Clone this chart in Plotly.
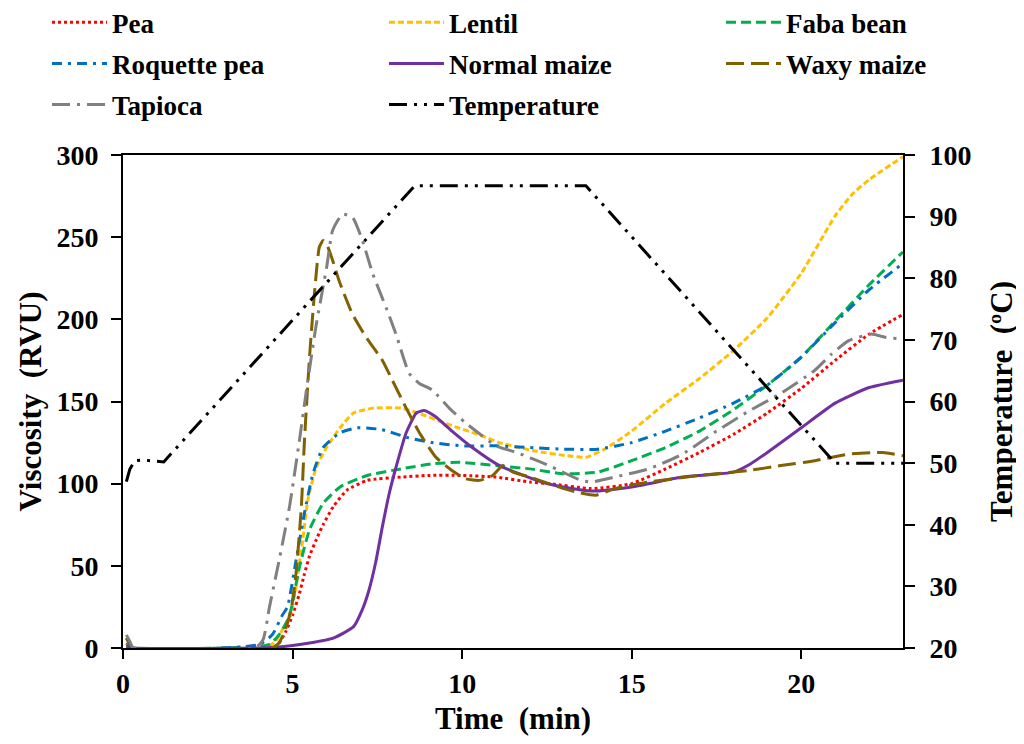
import plotly.graph_objects as go

# ---------------- data ----------------
pea_t = [0.1, 0.3, 4.4, 4.6, 4.8, 5.0, 5.2, 5.35, 5.5, 5.7, 5.9, 6.2, 6.6, 7.2, 8.2, 9.0, 10.0, 11.0, 12.0, 12.6, 13.8, 15.0, 16.0, 17.0, 18.0, 19.0, 20.0, 21.0, 22.0, 23.0]
pea_v = [3, 0, 0, 3, 10, 20, 33, 45, 56, 66, 75, 86, 96, 102, 104, 105, 105, 104, 101, 100, 97, 100, 109, 119, 130, 143, 158, 175, 191, 203]

lentil_t = [0.1, 0.3, 4.2, 4.5, 4.7, 4.9, 5.1, 5.3, 5.45, 5.7, 6.0, 6.4, 6.8, 7.4, 8.2, 8.7, 9.6, 10.6, 11.1, 12.1, 13.1, 13.65, 14.2, 15.0, 16.0, 17.0, 18.0, 19.0, 20.0, 21.0, 21.5, 22.0, 23.0]
lentil_v = [2, 0, 0, 4, 11, 17, 37, 66, 90, 110, 122, 134, 143, 146, 146, 143, 136, 129, 125, 120, 117, 116, 121, 132, 149, 164, 181, 201, 228, 263, 276, 285, 299]

faba_t = [0.1, 0.3, 4.3, 4.6, 4.9, 5.2, 5.5, 5.9, 6.4, 7.2, 8.2, 9.1, 9.9, 11.0, 12.0, 13.0, 14.0, 15.0, 16.0, 17.0, 18.0, 19.0, 20.0, 21.0, 22.0, 23.0]
faba_v = [2, 0, 2, 8, 19, 49, 72, 88, 98, 105, 109, 112, 113, 111, 109, 106, 107, 114, 122, 132, 145, 160, 177, 199, 221, 241]

roquette_t = [0.1, 0.3, 4.0, 4.4, 4.7, 4.85, 5.1, 5.35, 5.6, 5.9, 6.4, 6.9, 7.6, 8.4, 9.1, 10.0, 11.0, 12.0, 13.0, 14.0, 15.0, 16.0, 17.0, 18.0, 19.0, 20.0, 21.0, 22.0, 23.0]
roquette_v = [6, 0, 2, 8, 20, 25, 53, 82, 106, 122, 131, 134, 133, 128, 125, 123, 123, 122, 121, 121, 125, 132, 140, 149, 160, 177, 198, 218, 234]

maize_t = [0.1, 0.3, 4.0, 4.5, 5.0, 5.5, 6.2, 6.8, 7.05, 7.25, 7.45, 7.65, 7.85, 8.05, 8.35, 8.65, 8.88, 9.2, 9.7, 10.3, 11.1, 12.5, 13.8, 15.0, 16.5, 18.0, 18.5, 19.0, 20.0, 21.0, 22.0, 23.0]
maize_v = [1, 0, 0, 0.5, 1.5, 3, 6, 13, 23, 35, 52, 74, 94, 110, 131, 143, 144.5, 141, 132, 122, 111, 100, 95.5, 98, 104, 107, 112, 119, 134, 149, 158.5, 163]

waxy_t = [0.1, 0.2, 0.3, 4.4, 4.6, 4.8, 4.97, 5.1, 5.26, 5.35, 5.5, 5.65, 5.79, 5.9, 6.0, 6.18, 6.38, 6.77, 7.17, 7.65, 7.94, 8.35, 8.74, 9.23, 9.7, 10.1, 10.5, 10.9, 11.2, 11.5, 12.0, 12.56, 13.0, 13.35, 13.94, 14.5, 15.5, 17.0, 18.44, 19.4, 20.4, 21.4, 22.4, 23.0]
waxy_v = [6, 3, 0, 0, 3, 12, 25, 45, 86, 126, 177, 217, 244, 248, 246, 236, 223, 203, 189, 175, 163, 146, 131, 116, 108, 103, 102, 105, 111, 107, 104, 100, 97, 95, 93, 97, 101, 105, 108, 111, 114, 118, 119, 117]

tapioca_t = [0.1, 0.2, 0.3, 3.9, 4.13, 4.32, 4.62, 4.91, 5.2, 5.41, 5.7, 6.0, 6.18, 6.47, 6.77, 7.06, 7.36, 7.76, 8.05, 8.44, 8.74, 9.12, 9.62, 10.1, 10.6, 11.0, 11.6, 12.56, 13.5, 13.8, 14.5, 15.5, 16.5, 17.5, 18.44, 19.4, 20.4, 20.9, 21.4, 22.06, 22.5, 23.0]
tapioca_v = [8, 4, 0, 0, 5, 25, 55, 86, 126, 157, 197, 231, 254, 264, 262, 248, 228, 207, 191, 167, 161, 157, 146, 137, 129, 123, 119, 111, 102, 101, 104, 109, 118, 132, 144, 155, 169, 179, 187, 191, 189, 188]

temp_t = [0.1, 0.2, 0.35, 0.6, 1.2, 8.6, 13.65, 21.0, 23.0]
temp_v = [47, 49, 50.4, 50.5, 50.2, 95, 95, 50, 50]

x_ticks = [0, 5, 10, 15, 20]
y_ticks = [0, 50, 100, 150, 200, 250, 300]
y2_ticks = [20, 30, 40, 50, 60, 70, 80, 90, 100]

FONT = "Liberation Serif, Times New Roman, serif"

# (name, x, y, colour, dash, width, legend column)
series = [
    ("Pea", pea_t, pea_v, "#FF0000", "dot", 3, "legend"),
    ("Lentil", lentil_t, lentil_v, "#FFC000", "6px,3px", 3, "legend2"),
    ("Faba bean", faba_t, faba_v, "#00B050", "10px,5px", 3, "legend3"),
    ("Roquette pea", roquette_t, roquette_v, "#0070C0", "10px,6px,3px,6px", 3, "legend"),
    ("Normal maize", maize_t, maize_v, "#7030A0", "solid", 3, "legend2"),
    ("Waxy maize", waxy_t, waxy_v, "#806000", "18px,7px", 3, "legend3"),
    ("Tapioca", tapioca_t, tapioca_v, "#808080", "18px,7px,3px,7px", 3, "legend"),
]

fig = go.Figure()
for name, t, v, col, dash, w, lg in series:
    fig.add_trace(go.Scatter(x=t, y=v, name=name, mode="lines", legend=lg, legendgroup=name,
                             line=dict(color=col, dash=dash, width=w, shape="spline", smoothing=0.5)))

fig.add_trace(go.Scatter(x=temp_t, y=temp_v, name="Temperature", mode="lines", yaxis="y2",
                         legend="legend2", legendgroup="Temperature",
                         line=dict(color="#000000", dash="18px,7px,3px,7px,3px,7px", width=3)))

axis_font = dict(family=FONT, size=28, color="black", weight="bold")
title_font = dict(family=FONT, size=31, color="black", weight="bold")
leg_font = dict(family=FONT, size=27, color="black", weight="bold")

# figure is drawn inside the page body (8px default margin), so it is 8px smaller
W, H = 1016, 736


def leg(x):
    return dict(orientation="v", x=x, y=1.318, xanchor="left", yanchor="top",
                font=leg_font, itemwidth=55, tracegroupgap=3,
                bgcolor="rgba(0,0,0,0)", traceorder="grouped")


fig.update_layout(
    width=W, height=H,
    margin=dict(l=115, r=121, t=147, b=96, autoexpand=False),
    paper_bgcolor="white", plot_bgcolor="white",
    showlegend=True,
    legend=leg(-0.0974), legend2=leg(0.3346), legend3=leg(0.7667),
    xaxis=dict(range=[0, 23], tickvals=x_ticks, ticks="outside", ticklen=9, tickwidth=1.5,
               tickcolor="black", showline=True, linecolor="black", linewidth=2, mirror=True,
               showgrid=False, zeroline=False, tickfont=axis_font, automargin=False,
               title=dict(text="Time  (min)", font=title_font, standoff=10)),
    yaxis=dict(range=[0, 300], tickvals=y_ticks, ticks="outside", ticklen=10, tickwidth=1.5,
               tickcolor="black", showline=True, linecolor="black", linewidth=2,
               showgrid=False, zeroline=False, tickfont=axis_font, automargin=False,
               ticklabelstandoff=7,
               title=dict(text="Viscosity  (RVU)", font=title_font, standoff=6)),
    yaxis2=dict(range=[20, 100], tickvals=y2_ticks, ticks="outside", ticklen=10, tickwidth=1.5,
                tickcolor="black", showline=True, linecolor="black", linewidth=2,
                overlaying="y", side="right", showgrid=False, zeroline=False, tickfont=axis_font,
                automargin=False, ticklabelstandoff=9,
                title=dict(text="Temperature  (ºC)", font=title_font, standoff=20)),
)

fig.write_html("out.html")
